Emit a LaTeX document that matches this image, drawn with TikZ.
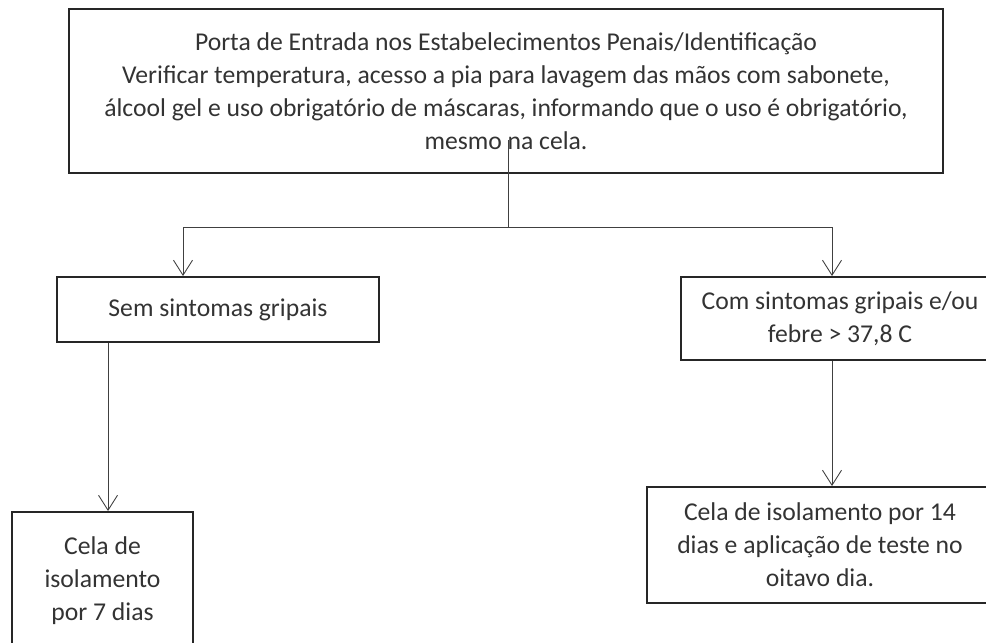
\documentclass[tikz,border=0pt]{standalone}
\usepackage{fontspec}
\setmainfont{Carlito}
\usetikzlibrary{arrows.meta}

\tikzset{
  caixa/.style = {draw=black!85, line width=1.1pt, align=center, inner sep=0pt, text=black!80},
  linha/.style = {draw=black!75, line width=0.5pt},
  seta/.style  = {linha, -{Straight Barb[length=0.3cm, width=0.38cm]}},
}

\begin{document}
\begin{tikzpicture}[x=0.02cm, y=-0.02cm, font=\fontsize{14.6}{18.8}\selectfont]
			\useasboundingbox (0,0) rectangle (986,642);

			% caixas
			\node[caixa, minimum width=17.48cm, minimum height=3.28cm] (entrada) at (506,91)
				{Porta de Entrada nos Estabelecimentos Penais/Identificação\\
				 Verificar temperatura, acesso a pia para lavagem das mãos com sabonete,\\
				 álcool gel e uso obrigatório de máscaras, informando que o uso é obrigatório,\\
				 mesmo na cela.};
			\node[caixa, minimum width=6.44cm, minimum height=1.3cm] (sem) at (218,309.5)
				{Sem sintomas gripais};
			\node[caixa, minimum width=6.36cm, minimum height=1.66cm] (com) at (840,318.5)
				{Com sintomas gripais e/ou\\febre > 37,8 C};
			\node[caixa, minimum width=3.62cm, minimum height=2.76cm] (cela7) at (102.5,581)
				{Cela de\\isolamento\\por 7 dias};
			\node[caixa, minimum width=6.92cm, minimum height=2.32cm] (cela14) at (820,545)
				{Cela de isolamento por 14\\dias e aplicação de teste no\\oitavo dia.};

			% ligacoes
			\coordinate (saida) at (508,140);
			\coordinate (juncao) at (508,227);
			\draw[linha] (saida) -- (juncao);
			\draw[seta] (juncao) -| ([xshift=-0.7cm]sem.north);
			\draw[seta] (juncao) -| ([xshift=-0.16cm]com.north);
			\draw[seta] ([xshift=-2.2cm]sem.south) -- ([xshift=-2.2cm]sem.south |- cela7.north);
			\draw[seta] ([xshift=-0.16cm]com.south) -- ([xshift=-0.16cm]com.south |- cela14.north);
		\end{tikzpicture}
\end{document}
